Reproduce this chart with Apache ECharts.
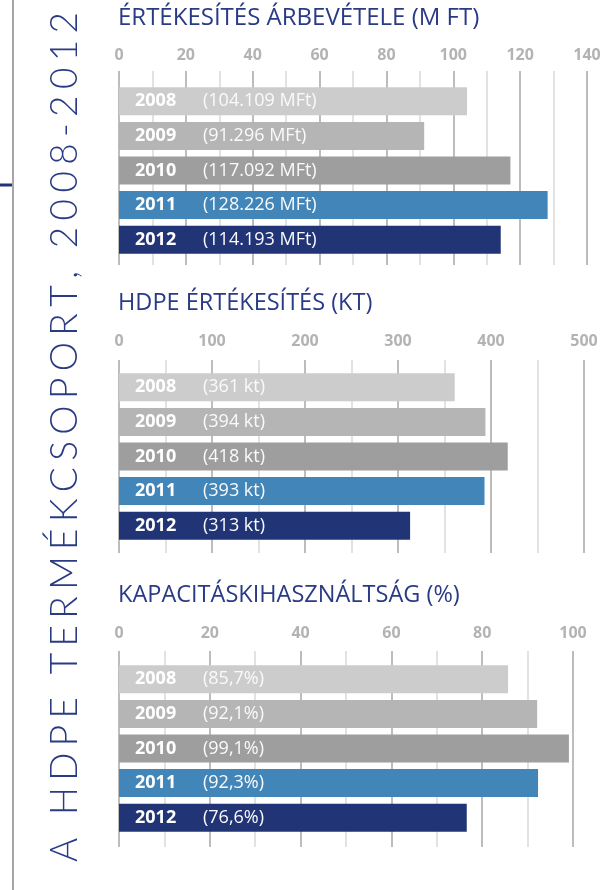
<!DOCTYPE html>
<html>
<head>
<meta charset="utf-8">
<script src="https://cdn.jsdelivr.net/npm/echarts@6/dist/echarts.min.js"></script>
<style>
  html, body { margin: 0; padding: 0; background: #fff; }
  #chart { width: 614px; height: 890px; }
</style>
</head>
<body>
<div id="chart"></div>
<script>
// adatok
var years = ['2008', '2009', '2010', '2011', '2012'];
var revenue = [104.109, 91.296, 117.092, 128.226, 114.193];   // M Ft (ezer)
var hdpeSales = [361, 394, 418, 393, 313];                    // kt
var capacity = [85.7, 92.1, 99.1, 92.3, 76.6];                // %
var titles = ['ÉRTÉKESÍTÉS ÁRBEVÉTELE (M FT)', 'HDPE ÉRTÉKESÍTÉS (KT)', 'KAPACITÁSKIHASZNÁLTSÁG (%)'];
var axisMax = [140, 500, 100];
var axisStep = [20, 100, 20];
var sideTitle = 'A HDPE TERMÉKCSOPORT, 2008-2012';

var barColors = ['#cbcccb', '#b4b5b4', '#9d9e9d', '#4285b8', '#213476'];
var navy = '#2a3b85';
var font = "'Open Sans', sans-serif";

function fmtRevenue(v) { return v.toFixed(3) + ' MFt'; }
function fmtSales(v) { return v + ' kt'; }
function fmtCapacity(v) { return v.toFixed(1).replace('.', ',') + '%'; }

// panelek elhelyezese
var panels = [
  { data: revenue, fmt: fmtRevenue, top: 84, right: 27, up: 13, down: 8, titleTop: 6, titleSize: 24 },
  { data: hdpeSales, fmt: fmtSales, top: 370, right: 30, up: 10, down: 10, titleTop: 291, titleSize: 23.5 },
  { data: capacity, fmt: fmtCapacity, top: 662, right: 41, up: 11, down: 12, titleTop: 583, titleSize: 23.5 }
];

var chart = echarts.init(document.getElementById('chart'));

var option = {
  animation: false,
  backgroundColor: '#fff',
  title: [], grid: [], xAxis: [], yAxis: [], series: [], graphic: []
};

panels.forEach(function (p, i) {
  option.title.push({
    text: titles[i], left: 118, top: p.titleTop, padding: 0,
    textStyle: { fontFamily: font, fontSize: p.titleSize, fontWeight: 'normal', color: navy }
  });
  option.grid.push({ left: 119, right: p.right, top: p.top, height: 173 });
  // felso tengely: feliratok + racsvonalak
  option.xAxis.push({
    type: 'value', gridIndex: i, position: 'top', min: 0, max: axisMax[i], interval: axisStep[i],
    axisLine: { show: false },
    axisTick: { show: true, length: p.up, lineStyle: { color: '#bdbdbd', width: 2 } },
    minorTick: { show: true, splitNumber: 2, length: p.up, lineStyle: { color: '#d9d9d9', width: 1.5 } },
    splitLine: { show: true, lineStyle: { color: '#bdbdbd', width: 2 } },
    minorSplitLine: { show: true, lineStyle: { color: '#d9d9d9', width: 1.5 } },
    axisLabel: { margin: 21, color: '#b3b3b3', fontFamily: font, fontSize: 16, fontWeight: 'bold' }
  });
  // also tengely: csak a racsvonalak lenyulo vege
  option.xAxis.push({
    type: 'value', gridIndex: i, position: 'bottom', min: 0, max: axisMax[i], interval: axisStep[i],
    axisLine: { show: false },
    axisLabel: { show: false },
    splitLine: { show: false },
    axisTick: { show: true, length: p.down, lineStyle: { color: '#bdbdbd', width: 2 } },
    minorTick: { show: true, splitNumber: 2, length: p.down, lineStyle: { color: '#d9d9d9', width: 1.5 } }
  });
  option.yAxis.push({
    type: 'category', gridIndex: i, data: years, inverse: true, show: false
  });
  option.series.push({
    type: 'bar', xAxisIndex: i * 2, yAxisIndex: i, barWidth: 28,
    data: p.data.map(function (v, k) { return { value: v, itemStyle: { color: barColors[k] } }; }),
    label: {
      show: true, position: 'insideLeft', distance: 5, offset: [11, 0],
      formatter: function (prm) {
        return '{y|' + years[prm.dataIndex] + '}{v|(' + p.fmt(p.data[prm.dataIndex]) + ')}';
      },
      rich: {
        y: { fontFamily: font, fontSize: 18, fontWeight: 'bold', color: '#fff', width: 68 },
        v: { fontFamily: font, fontSize: 18, color: '#fafafa' }
      }
    }
  });
});

// bal oldali dekoracio
option.graphic.push(
  { type: 'line', shape: { x1: 13, y1: 0, x2: 13, y2: 890 }, style: { stroke: '#a6a6a6', lineWidth: 2 } },
  { type: 'line', shape: { x1: 0, y1: 185, x2: 12, y2: 185 }, style: { stroke: '#213476', lineWidth: 3 } }
);

// fuggoleges cim, betukoz kezzel
var sideFont = "300 37px Lato";
var ctx = document.createElement('canvas').getContext('2d');
ctx.font = sideFont;
var chars = sideTitle.split('');
var widths = chars.map(function (c) { return ctx.measureText(c).width; });
var total = widths.reduce(function (a, b) { return a + b; }, 0);
var gap = (850 - total) / (chars.length - 1);
var pos = 0;
var kids = chars.map(function (c, k) {
  var el = { type: 'text', x: pos, y: 0, style: { text: c, font: sideFont, fill: navy, verticalAlign: 'bottom' } };
  pos += widths[k] + gap;
  return el;
});
option.graphic.push({ type: 'group', x: 84, y: 862, rotation: Math.PI / 2, children: kids });

chart.setOption(option);
</script>
</body>
</html>
